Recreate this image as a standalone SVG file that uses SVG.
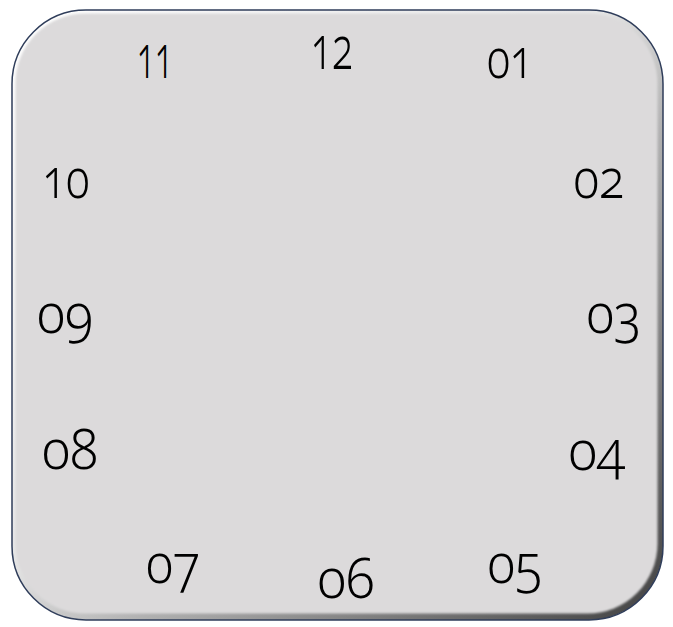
<svg xmlns="http://www.w3.org/2000/svg" width="673" height="627" viewBox="0 0 673 627">
<defs>
<linearGradient id="bevel" x1="0" y1="0" x2="1" y2="1">
<stop offset="0" stop-color="#ffffff"/>
<stop offset="0.45" stop-color="#e6e6e6"/>
<stop offset="0.6" stop-color="#b0b0b0"/>
<stop offset="1" stop-color="#404040"/>
</linearGradient>
<filter id="soft" x="-5%" y="-5%" width="110%" height="110%">
<feGaussianBlur stdDeviation="1.2"/>
</filter>
<style>
.num{font-family:"Noto Sans","Open Sans","DejaVu Sans",sans-serif;font-size:56px;font-weight:360;fill:#000;text-anchor:middle;font-variant-numeric:oldstyle-nums;font-feature-settings:"onum" 1;}
.big{font-size:60px;}
</style>
</defs>
<g id="face">
<rect x="12" y="10" width="651" height="610" rx="74" ry="74" fill="url(#bevel)" stroke="#2f3d5a" stroke-width="1.5"/>
<rect x="15.5" y="13.5" width="642" height="600" rx="70" ry="70" fill="#dcdadb" filter="url(#soft)"/>
</g>
<g id="labels">
<text id="n12" class="num big" x="332" y="69" textLength="42" lengthAdjust="spacingAndGlyphs">12</text>
<text id="n01" class="num" x="510" y="78" textLength="46" lengthAdjust="spacingAndGlyphs">01</text>
<text id="n02" class="num" x="599" y="198" textLength="51" lengthAdjust="spacingAndGlyphs">02</text>
<text id="n03" class="num" x="614" y="333" textLength="55" lengthAdjust="spacingAndGlyphs">03</text>
<text id="n04" class="num" x="597" y="470" textLength="57" lengthAdjust="spacingAndGlyphs">04</text>
<text id="n05" class="num" x="515" y="583" textLength="55" lengthAdjust="spacingAndGlyphs">05</text>
<text id="n06" class="num" x="346" y="598" textLength="57" lengthAdjust="spacingAndGlyphs">06</text>
<text id="n07" class="num" x="173" y="583" textLength="54" lengthAdjust="spacingAndGlyphs">07</text>
<text id="n08" class="num" x="70" y="469" textLength="56" lengthAdjust="spacingAndGlyphs">08</text>
<text id="n09" class="num" x="65" y="333" textLength="56" lengthAdjust="spacingAndGlyphs">09</text>
<text id="n10" class="num" x="66" y="198" textLength="47" lengthAdjust="spacingAndGlyphs">10</text>
<text id="n11" class="num big" x="155" y="78" textLength="36" lengthAdjust="spacingAndGlyphs">11</text>
</g>
<g id="connectors"></g>
</svg>
